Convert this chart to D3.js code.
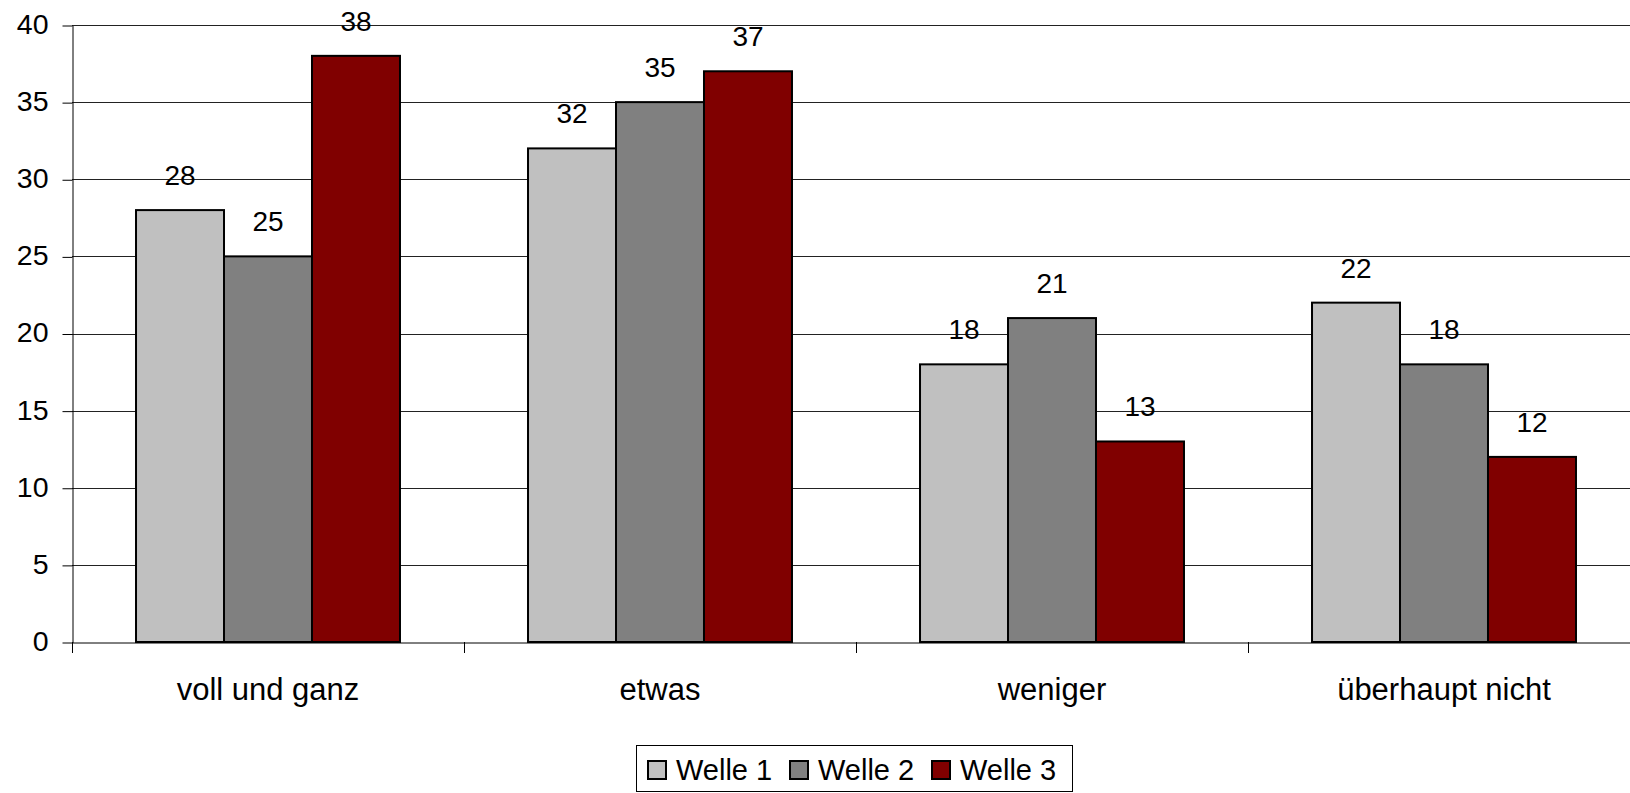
<!DOCTYPE html>
<html>
<head>
<meta charset="utf-8">
<script src="https://cdn.jsdelivr.net/npm/d3@7"></script>
<style>
html,body{margin:0;padding:0;background:#fff;overflow:hidden;}
svg{display:block;font-family:"Liberation Sans",Arial,sans-serif;}
</style>
</head>
<body>
<svg id="chart" width="1630" height="793"></svg>
<script>
const categories = ["voll und ganz", "etwas", "weniger", "überhaupt nicht"];
const seriesNames = ["Welle 1", "Welle 2", "Welle 3"];
const welle1 = [28, 32, 18, 22];
const welle2 = [25, 35, 21, 18];
const welle3 = [38, 37, 13, 12];
const seriesColors = ["#C0C0C0", "#808080", "#800000"];
const yTicks = [0, 5, 10, 15, 20, 25, 30, 35, 40];

(function () {
const seriesValues = [welle1, welle2, welle3];
const svg = d3.select("#chart");

const plotLeft = 72, plotTop = 25, plotBottom = 642, bandW = 392;
const x0 = d3.scaleBand().domain(categories).range([plotLeft, plotLeft + bandW * categories.length]).padding(0);
const x1 = d3.scaleBand().domain(seriesNames)
  .range([x0.bandwidth() * 0.1633, x0.bandwidth() * 0.8367]).padding(0);
const y = d3.scaleLinear().domain([0, 40]).range([plotBottom, plotTop]);

// gridlines
svg.append("g").selectAll("line").data(yTicks.filter(d => d > 0)).join("line")
  .attr("x1", plotLeft).attr("x2", 1630)
  .attr("y1", d => Math.round(y(d)) + 0.5).attr("y2", d => Math.round(y(d)) + 0.5)
  .attr("stroke", "#222").attr("stroke-width", 1);

// y axis
const yAxis = d3.axisLeft(y).tickValues(yTicks).tickSize(10).tickPadding(14).tickSizeOuter(0);
const gy = svg.append("g").attr("transform", `translate(${plotLeft + 0.5},0.5)`).call(yAxis);
gy.select(".domain").attr("stroke", "#000");
gy.selectAll(".tick line").attr("stroke", "#000");
gy.selectAll(".tick text").attr("font-size", 28.5).attr("fill", "#000")
  .attr("font-family", "Liberation Sans, Arial, sans-serif").attr("dy", "0.28em");

// bars
const groups = svg.append("g").selectAll("g").data(categories).join("g")
  .attr("transform", c => `translate(${x0(c)},0)`);
groups.selectAll("rect").data((c, i) => seriesNames.map((s, j) => ({ s, j, v: seriesValues[j][i] })))
  .join("rect")
  .attr("x", d => x1(d.s)).attr("width", x1.bandwidth())
  .attr("y", d => y(d.v)).attr("height", d => y(0) - y(d.v))
  .attr("fill", d => seriesColors[d.j]).attr("stroke", "#000").attr("stroke-width", 2);
groups.selectAll("text").data((c, i) => seriesNames.map((s, j) => ({ s, j, v: seriesValues[j][i] })))
  .join("text")
  .attr("x", d => x1(d.s) + x1.bandwidth() / 2).attr("y", d => y(d.v) - 25)
  .attr("text-anchor", "middle").attr("font-size", 28).attr("fill", "#000")
  .text(d => d.v);

// x axis
const xAxis = d3.axisBottom(x0).tickSize(0).tickPadding(0);
const gx = svg.append("g").attr("transform", `translate(0,${plotBottom + 0.5})`).call(xAxis);
gx.select(".domain").attr("stroke", "#000");
gx.selectAll(".tick text").attr("font-size", 31).attr("fill", "#000")
  .attr("font-family", "Liberation Sans, Arial, sans-serif").attr("dy", null).attr("y", 57);
// category separator ticks
svg.append("g").selectAll("line")
  .data(categories.map(c => x0(c)))
  .join("line")
  .attr("x1", d => Math.round(d) + 0.5).attr("x2", d => Math.round(d) + 0.5)
  .attr("y1", plotBottom).attr("y2", plotBottom + 11).attr("stroke", "#000");

// legend
const leg = svg.append("g");
leg.append("rect").attr("x", 636.5).attr("y", 745.5).attr("width", 436).attr("height", 46)
  .attr("fill", "#fff").attr("stroke", "#000").attr("stroke-width", 1);
const legX = [648, 790, 932];
const items = leg.selectAll("g.item").data(seriesNames).join("g").attr("class", "item")
  .attr("transform", (d, i) => `translate(${legX[i]},761)`);
items.append("rect").attr("width", 18).attr("height", 18)
  .attr("fill", (d, i) => seriesColors[i]).attr("stroke", "#000").attr("stroke-width", 2);
items.append("text").attr("x", 28).attr("y", 19).attr("font-size", 29).attr("fill", "#000").text(d => d);
})();
</script>
</body>
</html>
